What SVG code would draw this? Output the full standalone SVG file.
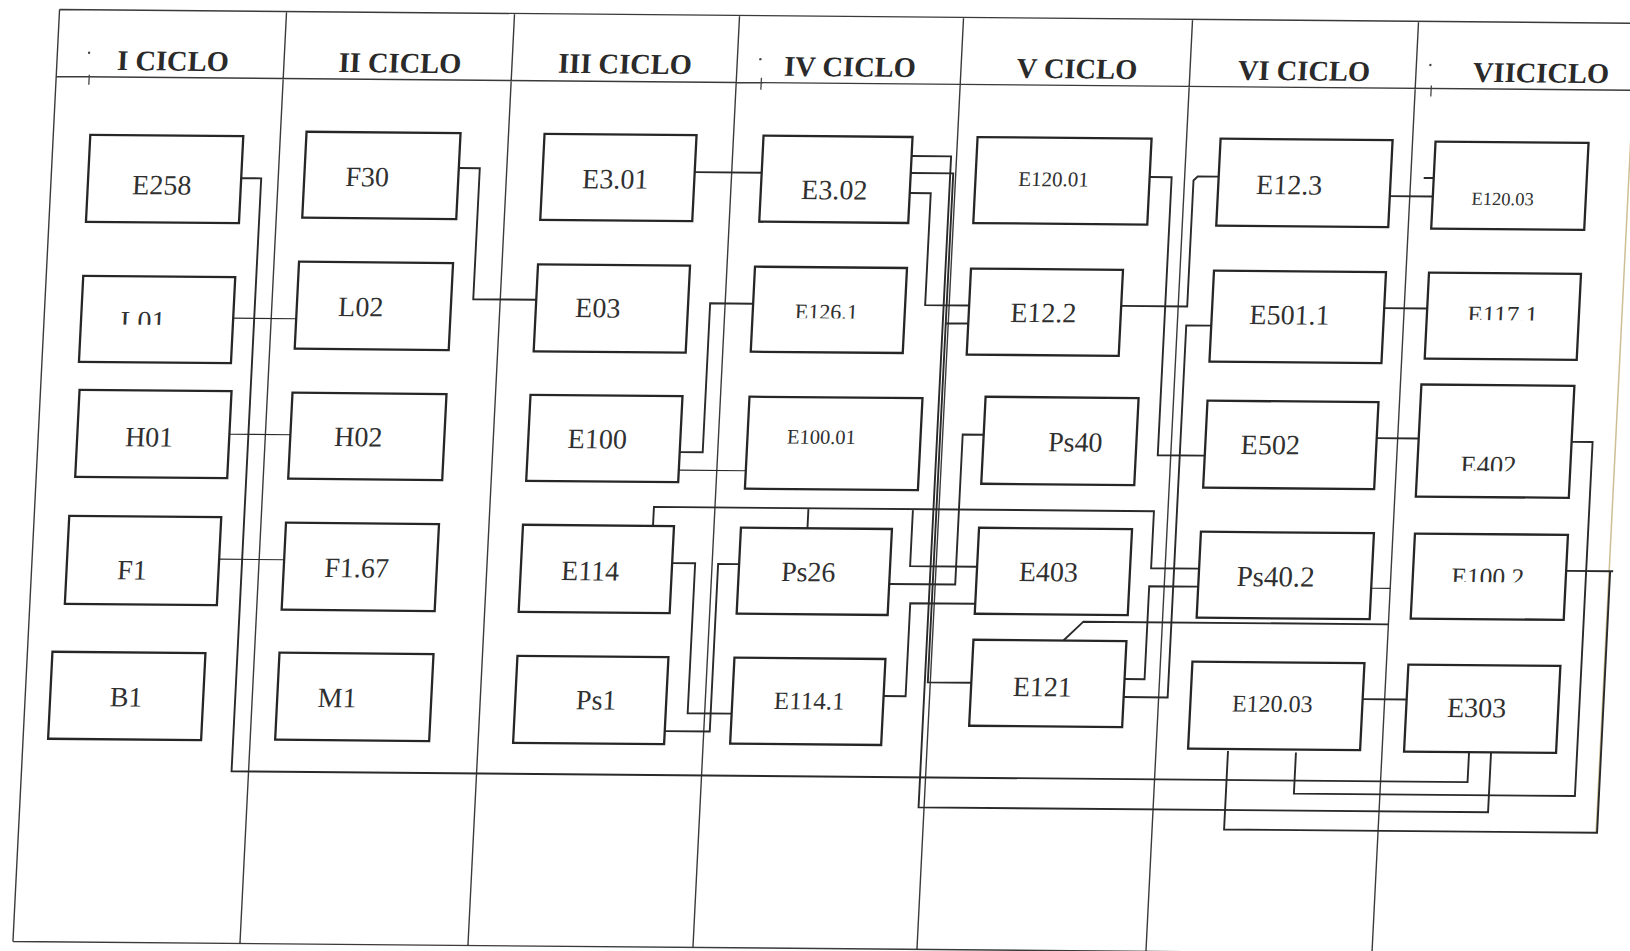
<svg xmlns="http://www.w3.org/2000/svg" width="1630" height="951" viewBox="0 0 1630 951">
<defs>
<style>
.grid{fill:none;stroke:#3a3a3a;stroke-width:1.4}
.box{fill:none;stroke:#262626;stroke-width:2.3}
.c{fill:none;stroke:#2a2a2a;stroke-width:1.9}
.t{stroke-width:1.1}
.lbl{font-family:"Liberation Serif","Times New Roman",serif;font-size:28px;fill:#303030;text-anchor:middle}
.hdr{font-family:"Liberation Serif","Times New Roman",serif;font-size:28.5px;font-weight:bold;fill:#2a2a2a;text-anchor:middle}
.mark{fill:none;stroke:#444;stroke-width:1.3}
</style>
<clipPath id="cpL01"><rect x="100" y="290" width="140" height="33.5"/></clipPath>
<clipPath id="cpE1261"><rect x="780" y="280" width="130" height="31"/></clipPath>
<clipPath id="cpE1171"><rect x="1450" y="280" width="140" height="27"/></clipPath>
<clipPath id="cpE402"><rect x="1450" y="420" width="140" height="38"/></clipPath>
<clipPath id="cpE1002"><rect x="1450" y="540" width="140" height="29"/></clipPath>
</defs>
<rect width="1630" height="951" fill="#ffffff"/>
<g transform="matrix(1,0.0087,-0.05,1,0,0)">
<g id="grid">
<path class="grid" d="M60,9 H1700 M60,76 H1700 M60,9 V941 M60,941 H1700 M287,9 V941 M515,9 V941 M740,9 V941 M964,9 V941 M1193,9 V941 M1419,9 V941"/>
<path d="M1637,115 V818" fill="none" stroke="#cdbf95" stroke-width="1.5"/>
<path class="mark" d="M93,74 V84 M765,71 V83 M1435,73 V84"/>
<circle cx="91.7" cy="52" r="1.2" fill="#444"/>
<circle cx="763" cy="52.5" r="1.2" fill="#444"/>
<circle cx="1433" cy="52.5" r="1.2" fill="#444"/>
</g>
<g id="headers">
<text class="hdr" x="176" y="69">I CICLO</text>
<text class="hdr" x="403" y="69">II CICLO</text>
<text class="hdr" x="628" y="68">III CICLO</text>
<text class="hdr" x="853" y="69">IV CICLO</text>
<text class="hdr" x="1080" y="69">V CICLO</text>
<text class="hdr" x="1307" y="69">VI CICLO</text>
<text class="hdr" x="1544" y="69">VIICICLO</text>
</g>
<g id="connectors">
<path class="c" d="M250,176 H270 V769 H1506 V739"/>
<path class="c t" d="M249,316 H312 M251,432 H312 M247,557 H312"/>
<path class="c" d="M467,164 H488 V295 H551"/>
<path class="c" d="M703,166 H770"/>
<path class="c" d="M702,446 H725 V297 H768"/>
<path class="c t" d="M702,464 H769"/>
<path class="c" d="M700,557 H723 V707 H767"/>
<path class="c" d="M701,725 H746 V557.5 H767"/>
<path class="c" d="M679,520 V501 H1179 V558 H1227 M833.5,501 V521 M938,501 V558 H1005"/>
<path class="c" d="M918,576 H984 V426 H1005"/>
<path class="c" d="M918,688 H940 V595 H1005"/>
<path class="c" d="M919,148 H958.5 V799 H1528 V739"/>
<path class="c" d="M919,165 H961.5 V674 H1005 M961.5,315 H984"/>
<path class="c" d="M919,185 H940 V297 H984"/>
<path class="c" d="M1158,167 H1180 V445 H1227"/>
<path class="c" d="M1136,296 H1202 V170 L1206,166 H1227"/>
<path class="c" d="M1158,687 H1202 V315 H1227"/>
<path class="c" d="M1158,669 H1178 V576 H1227"/>
<path class="c" d="M1095,631 L1114,612 H1419"/>
<path class="c t" d="M1400,576 H1419"/>
<path class="c" d="M1397,687 H1441"/>
<path class="c" d="M1265,740 V818.5 H1638 V557 H1594 M1638,557 H1641"/>
<path class="c" d="M1333,741 V782 H1614 V428 H1593"/>
<path class="c" d="M1398,426 H1440"/>
<path class="c" d="M1399,296 H1442"/>
<path class="c" d="M1399,184 H1442 M1432,165.5 H1442"/>
</g>
<g id="n-E258"><rect class="box" x="97" y="134" width="153" height="87"/><text class="lbl" x="171" y="193">E258</text></g>
<g id="n-L01"><rect class="box" x="97" y="275" width="152" height="86"/><text class="lbl" x="159" y="329" clip-path="url(#cpL01)">L01</text></g>
<g id="n-H01"><rect class="box" x="99" y="389" width="152" height="87"/><text class="lbl" x="171" y="445">H01</text></g>
<g id="n-F1"><rect class="box" x="95" y="515" width="152" height="88"/><text class="lbl" x="160.5" y="578">F1</text></g>
<g id="n-B1"><rect class="box" x="85" y="651" width="153" height="87"/><text class="lbl" x="161" y="705">B1</text></g>
<g id="n-F30"><rect class="box" x="313" y="129" width="154" height="86"/><text class="lbl" x="376" y="183">F30</text></g>
<g id="n-L02"><rect class="box" x="312" y="259" width="154" height="87"/><text class="lbl" x="376" y="313">L02</text></g>
<g id="n-H02"><rect class="box" x="312" y="390" width="154" height="86"/><text class="lbl" x="380" y="443">H02</text></g>
<g id="n-F1-67"><rect class="box" x="312" y="520" width="153" height="87"/><text class="lbl" x="385" y="574">F1.67</text></g>
<g id="n-M1"><rect class="box" x="312" y="650" width="154" height="87"/><text class="lbl" x="372" y="704">M1</text></g>
<g id="n-E3-01"><rect class="box" x="551" y="129" width="152" height="86"/><text class="lbl" x="624" y="183">E3.01</text></g>
<g id="n-E03"><rect class="box" x="551" y="259.5" width="152" height="87"/><text class="lbl" x="613" y="312">E03</text></g>
<g id="n-E100"><rect class="box" x="550" y="390" width="152" height="86"/><text class="lbl" x="619" y="443">E100</text></g>
<g id="n-E114"><rect class="box" x="549" y="520" width="151" height="87"/><text class="lbl" x="618.6" y="575">E114</text></g>
<g id="n-Ps1"><rect class="box" x="550" y="651" width="151" height="87"/><text class="lbl" x="631" y="704">Ps1</text></g>
<g id="n-E3-02"><rect class="box" x="770" y="129" width="149" height="86"/><text class="lbl" x="843.5" y="192">E3.02</text></g>
<g id="n-E126-1"><rect class="box" x="768" y="260" width="152" height="85"/><text class="lbl" x="841.6" y="312" style="font-size:22px" clip-path="url(#cpE1261)">E126.1</text></g>
<g id="n-E100-01"><rect class="box" x="769" y="390" width="173" height="92"/><text class="lbl" x="843" y="436.5" style="font-size:20.5px">E100.01</text></g>
<g id="n-Ps26"><rect class="box" x="767" y="521" width="151" height="86"/><text class="lbl" x="836.6" y="574">Ps26</text></g>
<g id="n-E114-1"><rect class="box" x="767" y="651" width="151" height="86"/><text class="lbl" x="844" y="702" style="font-size:25px">E114.1</text></g>
<g id="n-E120-01"><rect class="box" x="984" y="128.5" width="174" height="86"/><text class="lbl" x="1062" y="177" style="font-size:21px">E120.01</text></g>
<g id="n-E12-2"><rect class="box" x="984" y="260" width="152" height="86"/><text class="lbl" x="1058.7" y="313">E12.2</text></g>
<g id="n-Ps40"><rect class="box" x="1005" y="388" width="153" height="87"/><text class="lbl" x="1097" y="442">Ps40</text></g>
<g id="n-E403"><rect class="box" x="1005" y="519" width="153" height="86"/><text class="lbl" x="1076.6" y="572">E403</text></g>
<g id="n-E121"><rect class="box" x="1005" y="631" width="153" height="86"/><text class="lbl" x="1076.4" y="687">E121</text></g>
<g id="n-E12-3"><rect class="box" x="1227" y="128" width="172" height="87"/><text class="lbl" x="1298" y="183">E12.3</text></g>
<g id="n-E501-1"><rect class="box" x="1227" y="260" width="172" height="91"/><text class="lbl" x="1304.8" y="313">E501.1</text></g>
<g id="n-E502"><rect class="box" x="1227" y="390" width="171" height="87"/><text class="lbl" x="1292" y="443">E502</text></g>
<g id="n-Ps40-2"><rect class="box" x="1227" y="521" width="173" height="86"/><text class="lbl" x="1304" y="575" style="font-size:29px">Ps40.2</text></g>
<g id="n-E120-03-VI"><rect class="box" x="1225" y="651" width="172" height="87"/><text class="lbl" x="1307" y="700.5" style="font-size:24px">E120.03</text></g>
<g id="n-E120-03-VII"><rect class="box" x="1442" y="129" width="153" height="87"/><text class="lbl" x="1512" y="192" style="font-size:18.5px">E120.03</text></g>
<g id="n-E117-1"><rect class="box" x="1442" y="260" width="152" height="86"/><text class="lbl" x="1517.8" y="310" style="font-size:25px" clip-path="url(#cpE1171)">E117.1</text></g>
<g id="n-E402"><rect class="box" x="1440" y="372" width="153" height="112"/><text class="lbl" x="1511" y="461" style="font-size:26.5px" clip-path="url(#cpE402)">E402</text></g>
<g id="n-E100-2"><rect class="box" x="1441" y="521" width="153" height="85"/><text class="lbl" x="1516" y="572.5" style="font-size:25.5px" clip-path="url(#cpE1002)">E100.2</text></g>
<g id="n-E303"><rect class="box" x="1441" y="652" width="152" height="87"/><text class="lbl" x="1511.4" y="704">E303</text></g>
</g>
</svg>
